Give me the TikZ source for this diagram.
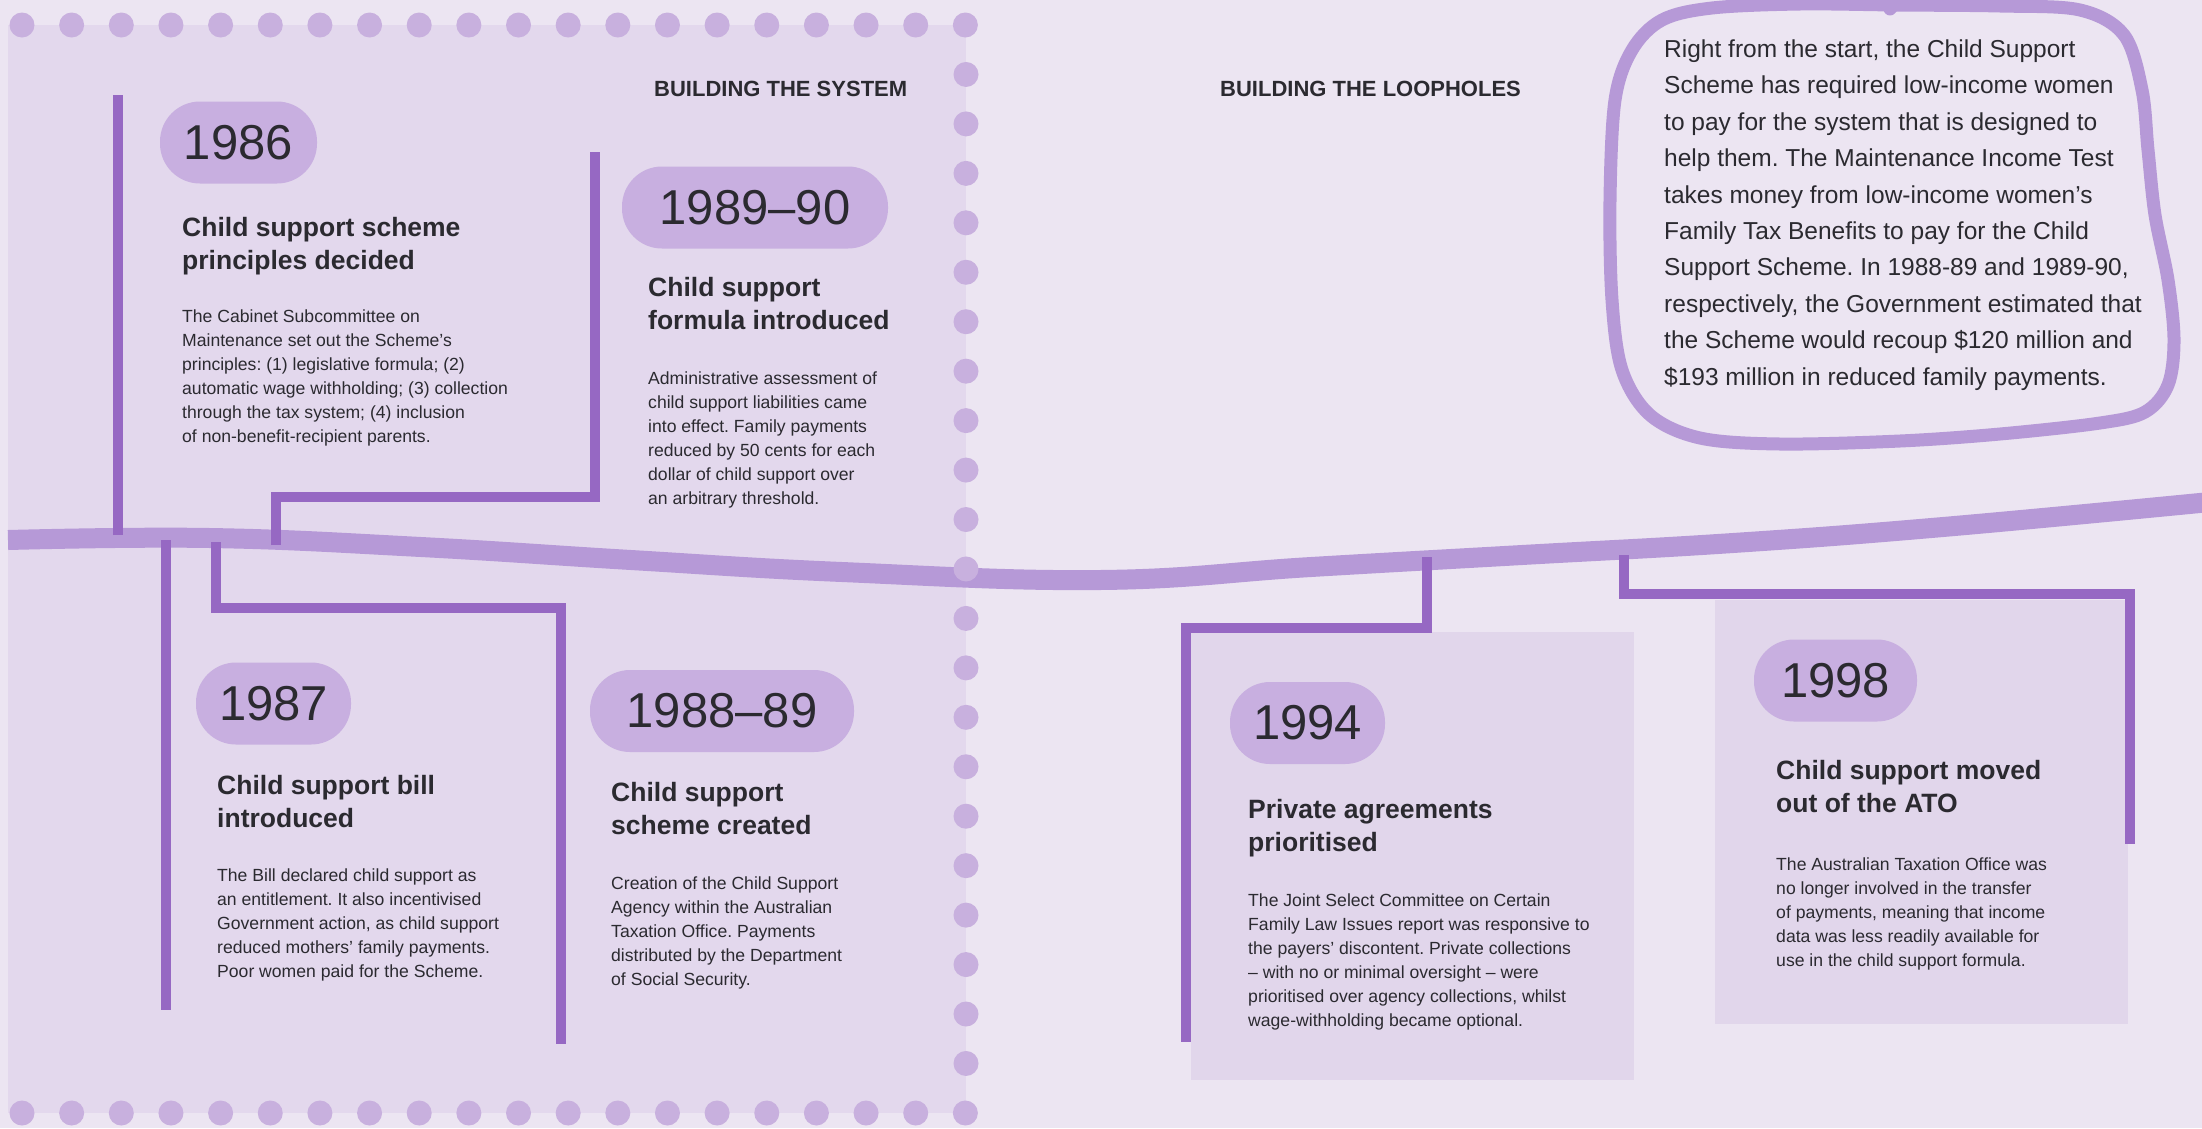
\documentclass[tikz,border=0pt]{standalone}
\usepackage{fontspec}
\setmainfont{Liberation Sans}
\definecolor{bgc}{HTML}{ECE5F2}
\definecolor{panelc}{HTML}{E3D8ED}
\definecolor{boxc}{HTML}{E1D6EB}
\definecolor{dotc}{HTML}{C8B0DE}
\definecolor{pillc}{HTML}{C8AFE0}
\definecolor{bandc}{HTML}{B699D7}
\definecolor{connc}{HTML}{9668C3}
\definecolor{textc}{HTML}{2B2A30}
\frenchspacing
\begin{document}
\begin{tikzpicture}[x=1pt,y=-1pt,
  yearpill/.style={fill=pillc, rounded corners=40pt, inner sep=0pt, minimum height=82pt, text=textc, font=\fontsize{49}{49}\selectfont},
  ttl/.style={anchor=north west, inner sep=0pt, align=left, text=textc, font=\bfseries\fontsize{26.5}{33.5}\selectfont},
  bodytxt/.style={anchor=north west, inner sep=0pt, align=left, text=textc, font=\fontsize{17.6}{24}\selectfont},
  headtxt/.style={anchor=base west, inner sep=0pt, text=textc, font=\bfseries\fontsize{22}{26}\selectfont},
  looptxt/.style={anchor=north west, inner sep=0pt, align=left, text=textc, font=\fontsize{24.5}{36.4}\selectfont},
  conn/.style={draw=connc, line width=10pt, line join=miter},
  band/.style={draw=bandc, line width=20pt},
  loopline/.style={draw=bandc, line width=13pt},
  perf/.style={fill=dotc, draw=none}
]
\useasboundingbox (0,0) rectangle (2202,1128);
% backgrounds
\fill[bgc] (0,0) rectangle (2202,1128);
\fill[panelc] (8,25) rectangle (966,1113);
\fill[boxc] (1191,632) rectangle (1634,1080);
\fill[boxc] (1715,600) rectangle (2128,1024);

% timeline band
\draw[band] plot[smooth, tension=0.7] coordinates {(8,540) (210,538) (421,547) (631,560) (842,572) (1100,580) (1311,567) (1522,555) (1733,543) (1943,527) (2210,502)};

% connector coordinates
\coordinate (c86a) at (118,535);  \coordinate (c86b) at (118,95);
\coordinate (c90a) at (276,545);  \coordinate (c90b) at (276,497);
\coordinate (c90c) at (595,497);  \coordinate (c90d) at (595,152);
\coordinate (c87a) at (166,540);  \coordinate (c87b) at (166,1010);
\coordinate (c89a) at (216,542);  \coordinate (c89b) at (216,608);
\coordinate (c89c) at (561,608);  \coordinate (c89d) at (561,1044);
\coordinate (c94a) at (1427,557); \coordinate (c94b) at (1427,628);
\coordinate (c94c) at (1186,628); \coordinate (c94d) at (1186,1042);
\coordinate (c98a) at (1624,555); \coordinate (c98b) at (1624,594);
\coordinate (c98c) at (2130,594); \coordinate (c98d) at (2130,844);

\draw[conn] (c86a) -- (c86b);
\draw[conn] (c90a) -- (c90b) -- (c90c) -- (c90d);
\draw[conn] (c87a) -- (c87b);
\draw[conn] (c89a) -- (c89b) -- (c89c) -- (c89d);
\draw[conn] (c94a) -- (c94b) -- (c94c) -- (c94d);
\draw[conn] (c98a) -- (c98b) -- (c98c) -- (c98d);

% perforation dots
\foreach \k in {0,...,19} {
  \fill[perf] (22+49.65*\k,25) circle (12.5);
  \fill[perf] (22+49.65*\k,1113) circle (12.5);
}
\foreach \k in {1,...,21} {
  \fill[perf] (966,25+49.45*\k) circle (12.5);
}

% headings
\node[headtxt] (hsys) at (654,96) {BUILDING THE SYSTEM};
\node[headtxt] (hloop) at (1220,96) {BUILDING THE LOOPHOLES};

% 1986
\node[yearpill, minimum width=157pt] (y86) at (238.5,142.5) {1986};
\node[ttl] (t86) at (182,217) {Child support scheme\\principles decided};
\node[bodytxt] (b86) at (182,309.5) {The Cabinet Subcommittee on\\Maintenance set out the Scheme’s\\principles: (1) legislative formula; (2)\\automatic wage withholding; (3) collection\\through the tax system; (4) inclusion\\of non-benefit-recipient parents.};

% 1989-90
\node[yearpill, minimum width=266pt] (y90) at (755,207.5) {1989–90};
\node[ttl] (t90) at (648,277) {Child support\\formula introduced};
\node[bodytxt] (b90) at (648,371.5) {Administrative assessment of\\child support liabilities came\\into effect. Family payments\\reduced by 50 cents for each\\dollar of child support over\\an arbitrary threshold.};

% 1987
\node[yearpill, minimum width=155pt] (y87) at (273.5,703.5) {1987};
\node[ttl] (t87) at (217,775) {Child support bill\\introduced};
\node[bodytxt] (b87) at (217,868.5) {The Bill declared child support as\\an entitlement. It also incentivised\\Government action, as child support\\reduced mothers’ family payments.\\Poor women paid for the Scheme.};

% 1988-89
\node[yearpill, minimum width=264pt] (y89) at (722,711) {1988–89};
\node[ttl] (t89) at (611,782) {Child support\\scheme created};
\node[bodytxt] (b89) at (611,876.5) {Creation of the Child Support\\Agency within the Australian\\Taxation Office. Payments\\distributed by the Department\\of Social Security.};

% 1994
\node[yearpill, minimum width=155pt] (y94) at (1307.5,723) {1994};
\node[ttl] (t94) at (1248,799) {Private agreements\\prioritised};
\node[bodytxt] (b94) at (1248,893.5) {The Joint Select Committee on Certain\\Family Law Issues report was responsive to\\the payers’ discontent. Private collections\\– with no or minimal oversight – were\\prioritised over agency collections, whilst\\wage-withholding became optional.};

% 1998
\node[yearpill, minimum width=163pt] (y98) at (1835.5,680.5) {1998};
\node[ttl] (t98) at (1776,760) {Child support moved\\out of the ATO};
\node[bodytxt] (b98) at (1776,857.5) {The Australian Taxation Office was\\no longer involved in the transfer\\of payments, meaning that income\\data was less readily available for\\use in the child support formula.};

% loop note
\draw[loopline] plot[smooth cycle, tension=0.55] coordinates {(1612,300) (1610,200) (1615,100) (1632,50) (1662,20) (1712,8) (1800,4) (1896,5) (2000,6) (2080,10) (2124,35) (2142,90) (2148,150) (2155,215) (2168,280) (2174,340) (2168,385) (2145,412) (2100,423) (2000,434) (1900,441) (1780,444) (1700,438) (1650,415) (1622,370)};
\draw[loopline, line cap=round] (1890,9) -- (1897,1);
\node[looptxt] (note) at (1664,39.5) {Right from the start, the Child Support\\Scheme has required low-income women\\to pay for the system that is designed to\\help them. The Maintenance Income Test\\takes money from low-income women’s\\Family Tax Benefits to pay for the Child\\Support Scheme. In 1988-89 and 1989-90,\\respectively, the Government estimated that\\the Scheme would recoup \$120 million and\\\$193 million in reduced family payments.};
\end{tikzpicture}
\end{document}
